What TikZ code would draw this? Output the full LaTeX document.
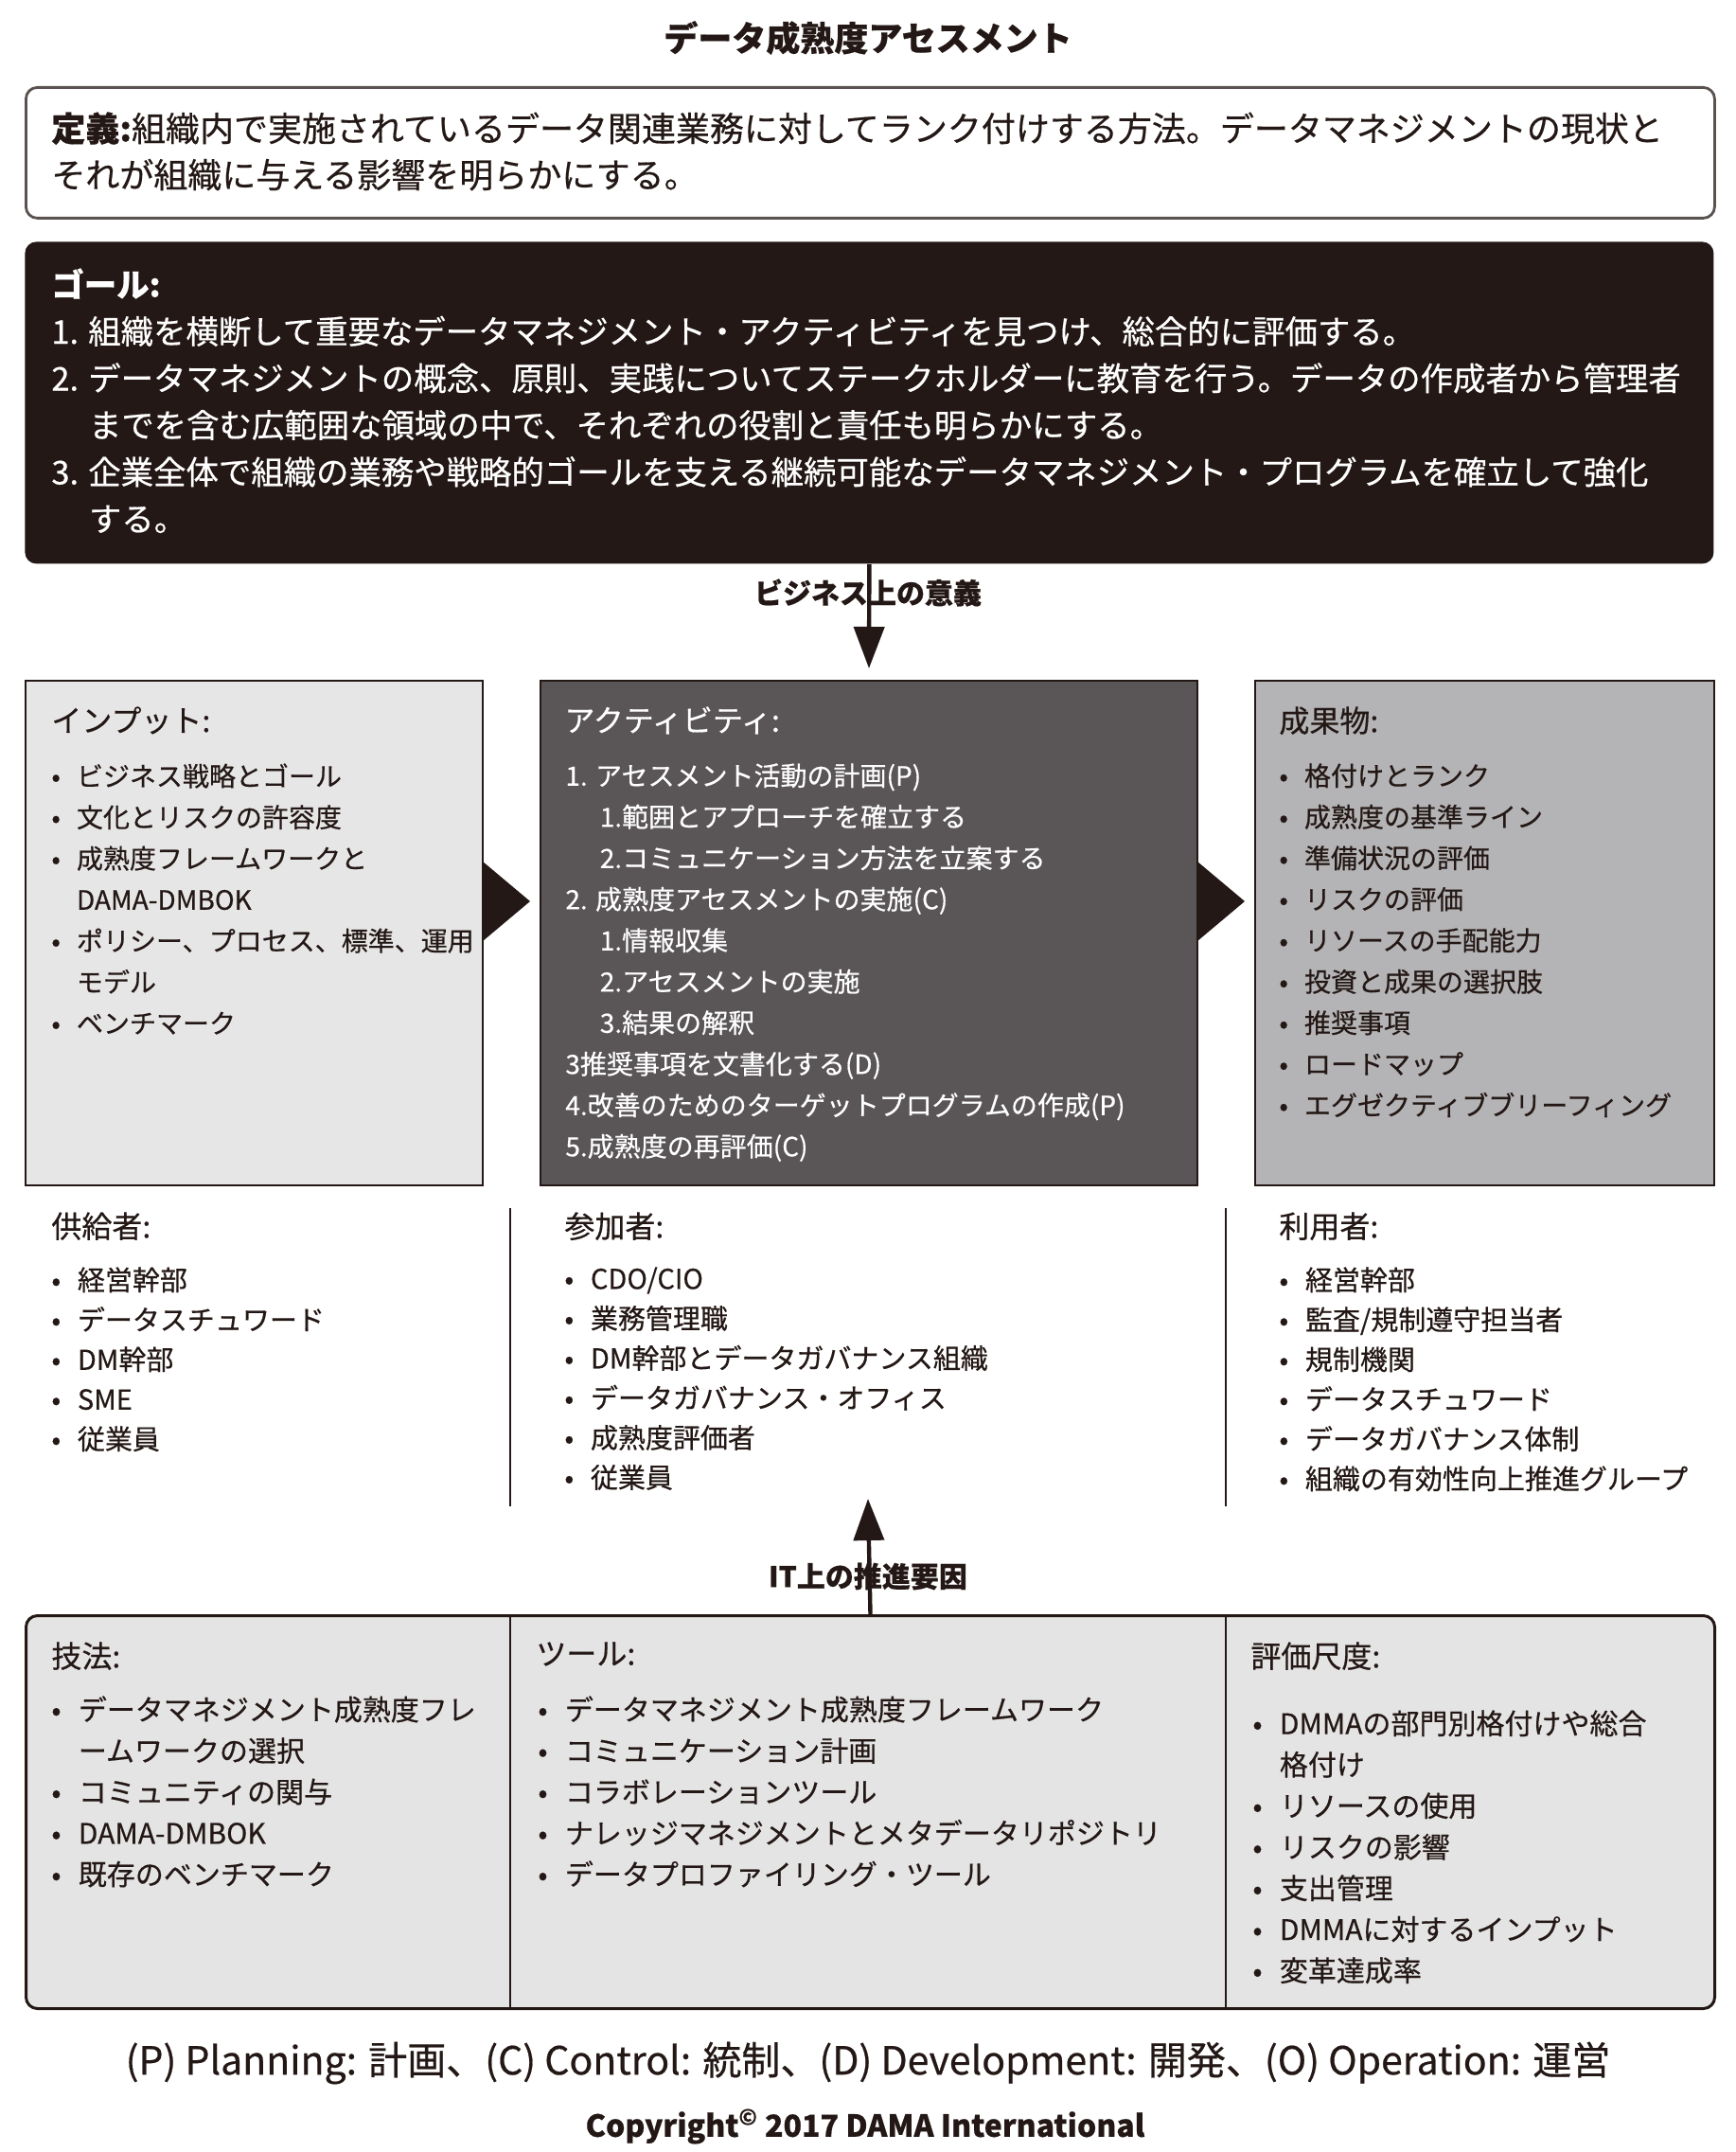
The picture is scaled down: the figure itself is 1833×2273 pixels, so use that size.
\documentclass[tikz,border=0pt]{standalone}
\usepackage{fontspec}
\setmainfont{Noto Sans CJK JP}[FakeBold=0.5]
\usepackage{xcolor}
\usepackage{tikz}
\usetikzlibrary{positioning,arrows.meta}
\definecolor{ink}{HTML}{231815}
\definecolor{actgray}{HTML}{5A5557}
\definecolor{outgray}{HTML}{B4B3B5}
\definecolor{ingray}{HTML}{E7E6E7}
\definecolor{btmgray}{HTML}{E5E4E5}
\newcommand\bul{\makebox[0.95em][l]{•}}
\newcommand\indt[1][0.95em]{\hspace*{#1}}

\begin{document}
\begin{tikzpicture}[
  x=0.5pt,y=-0.5pt,
  every node/.style={inner sep=0pt,text=ink},
  defbox/.style={anchor=north west,draw=ink!75,line width=1.4pt,rounded corners=6pt,fill=white},
  goalbox/.style={anchor=north west,fill=ink,rounded corners=6pt},
  inbox/.style={anchor=north west,draw=ink,line width=1pt,fill=ingray},
  actbox/.style={anchor=north west,draw=ink,line width=1pt,fill=actgray},
  outbox/.style={anchor=north west,draw=ink,line width=1pt,fill=outgray},
  btmbox/.style={anchor=north west,draw=ink,line width=1.5pt,rounded corners=6pt,fill=btmgray},
  hdr/.style={anchor=north west,font=\fontsize{16}{20}\selectfont},
  lst/.style={anchor=north west,align=left,font=\fontsize{14}{21.75}\selectfont},
  mlst/.style={anchor=north west,align=left,font=\fontsize{14.5}{21}\selectfont},
  blst/.style={anchor=north west,align=left,font=\fontsize{15}{21.75}\selectfont},
  lbl/.style={font=\fontsize{15}{18}\selectfont\bfseries},
  sepline/.style={draw=ink,line width=1pt},
  arr/.style={-{Triangle[width=16pt,length=22pt]},line width=2.2pt,draw=ink},
]
\path[use as bounding box,fill=white] (0,0) rectangle (1833,2273);

\node[font=\fontsize{18}{22}\selectfont\bfseries] (title) at (917,40) {データ成熟度アセスメント};

\node[defbox,minimum width=892pt,minimum height=69pt] (def) at (26,91) {};
\node[anchor=north west,align=left,font=\fontsize{18}{24.5}\selectfont] (defn) at (54,118)
  {\textbf{定義:}組織内で実施されているデータ関連業務に対してランク付けする方法。データマネジメントの現状と\\
   それが組織に与える影響を明らかにする。};

\node[goalbox,minimum width=892pt,minimum height=170pt] (goal) at (26,255) {};
\node[anchor=north west,align=left,text=white,font=\fontsize{17.2}{24.75}\selectfont] (goaltxt) at (54,283)
  {\textbf{ゴール:}\\
   1. 組織を横断して重要なデータマネジメント・アクティビティを見つけ、総合的に評価する。\\
   2. データマネジメントの概念、原則、実践についてステークホルダーに教育を行う。データの作成者から管理者\\
   \indt[1.15em]までを含む広範囲な領域の中で、それぞれの役割と責任も明らかにする。\\
   3. 企業全体で組織の業務や戦略的ゴールを支える継続可能なデータマネジメント・プログラムを確立して強化\\
   \indt[1.15em]する。};

\node[inbox,minimum width=241.5pt,minimum height=266.5pt] (inp) at (26,718) {};
\node[actbox,minimum width=347pt,minimum height=266.5pt] (act) at (570,718) {};
\node[outbox,minimum width=242.5pt,minimum height=266.5pt] (outp) at (1325,718) {};

\fill[ink] (510,910) -- (560,952) -- (510,994) -- cycle;
\fill[ink] (1265,910) -- (1315,952) -- (1265,994) -- cycle;

\node[hdr] (inhdr) at (54,746) {インプット:};
\node[lst] (inlst) at (54,806)
  {\bul ビジネス戦略とゴール\\
   \bul 文化とリスクの許容度\\
   \bul 成熟度フレームワークと\\
   \indt DAMA-DMBOK\\
   \bul ポリシー、プロセス、標準、運用\\
   \indt モデル\\
   \bul ベンチマーク};

\node[hdr,text=white] (acthdr) at (596,746) {アクティビティ:};
\node[lst,text=white!92] (actlst) at (597,806)
  {1. アセスメント活動の計画(P)\\
   \indt[1.3em]1.範囲とアプローチを確立する\\
   \indt[1.3em]2.コミュニケーション方法を立案する\\
   2. 成熟度アセスメントの実施(C)\\
   \indt[1.3em]1.情報収集\\
   \indt[1.3em]2.アセスメントの実施\\
   \indt[1.3em]3.結果の解釈\\
   3推奨事項を文書化する(D)\\
   4.改善のためのターゲットプログラムの作成(P)\\
   5.成熟度の再評価(C)};

\node[hdr] (outhdr) at (1351,746) {成果物:};
\node[lst] (outlst) at (1351,806)
  {\bul 格付けとランク\\
   \bul 成熟度の基準ライン\\
   \bul 準備状況の評価\\
   \bul リスクの評価\\
   \bul リソースの手配能力\\
   \bul 投資と成果の選択肢\\
   \bul 推奨事項\\
   \bul ロードマップ\\
   \bul エグゼクティブブリーフィング};

\draw[arr] (goal.south) -- ([yshift=6pt]act.north);
\node[lbl] (bizlbl) at (917,626) {ビジネス上の意義};

\draw[sepline] (539,1276) -- (539,1591);
\draw[sepline] (1295,1276) -- (1295,1591);

\node[hdr] (suphdr) at (54,1280) {供給者:};
\node[mlst] (suplst) at (54,1338)
  {\bul 経営幹部\\
   \bul データスチュワード\\
   \bul DM幹部\\
   \bul SME\\
   \bul 従業員};

\node[hdr] (parthdr) at (596,1280) {参加者:};
\node[mlst] (partlst) at (596,1338)
  {\bul CDO/CIO\\
   \bul 業務管理職\\
   \bul DM幹部とデータガバナンス組織\\
   \bul データガバナンス・オフィス\\
   \bul 成熟度評価者\\
   \bul 従業員};

\node[hdr] (conhdr) at (1351,1280) {利用者:};
\node[mlst] (conlst) at (1351,1338)
  {\bul 経営幹部\\
   \bul 監査/規制遵守担当者\\
   \bul 規制機関\\
   \bul データスチュワード\\
   \bul データガバナンス体制\\
   \bul 組織の有効性向上推進グループ};

\node[btmbox,minimum width=892pt,minimum height=207.5pt] (btm) at (26,1705) {};
\draw[sepline] (539,1705) -- (539,2120);
\draw[sepline] (1295,1705) -- (1295,2120);

\coordinate (ittip) at (917,1583);
\draw[arr] (btm.north) -- (ittip);
\node[lbl] (itlbl) at (917,1665) {IT上の推進要因};

\node[hdr] (techhdr) at (54,1734) {技法:};
\node[blst] (techlst) at (54,1791)
  {\bul データマネジメント成熟度フレ\\
   \indt ームワークの選択\\
   \bul コミュニティの関与\\
   \bul DAMA-DMBOK\\
   \bul 既存のベンチマーク};

\node[hdr] (toolhdr) at (566,1734) {ツール:};
\node[blst] (toollst) at (568,1791)
  {\bul データマネジメント成熟度フレームワーク\\
   \bul コミュニケーション計画\\
   \bul コラボレーションツール\\
   \bul ナレッジマネジメントとメタデータリポジトリ\\
   \bul データプロファイリング・ツール};

\node[hdr] (metrhdr) at (1321,1734) {評価尺度:};
\node[blst] (metrlst) at (1323,1806)
  {\bul DMMAの部門別格付けや総合\\
   \indt 格付け\\
   \bul リソースの使用\\
   \bul リスクの影響\\
   \bul 支出管理\\
   \bul DMMAに対するインプット\\
   \bul 変革達成率};

\node[font=\fontsize{20.5}{24}\selectfont] (legend) at (917,2179)
  {(P) Planning: 計画、(C) Control: 統制、(D) Development: 開発、(O) Operation: 運営};
\node[font=\fontsize{16}{20}\selectfont\bfseries] (copy) at (914,2246)
  {Copyright\textsuperscript{©} 2017 DAMA International};
\end{tikzpicture}
\end{document}
